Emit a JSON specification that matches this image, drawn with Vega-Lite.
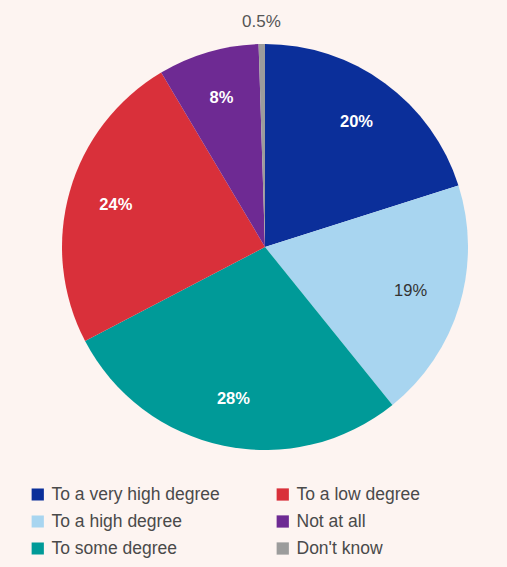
{
  "$schema": "https://vega.github.io/schema/vega-lite/v6.json",
  "autosize": "none",
  "width": 406,
  "height": 406,
  "padding": {"left": 62, "top": 44, "right": 39, "bottom": 117},
  "background": "#fdf4f1",
  "config": {"view": {"stroke": null}, "font": "Liberation Sans"},
  "data": {
    "values": [
      {"category": "To a very high degree", "value": 20, "label": "20%", "ord": 1, "txt": "white"},
      {"category": "To a high degree", "value": 19, "label": "19%", "ord": 2, "txt": "dark"},
      {"category": "To some degree", "value": 28, "label": "28%", "ord": 3, "txt": "white"},
      {"category": "To a low degree", "value": 24, "label": "24%", "ord": 4, "txt": "white"},
      {"category": "Not at all", "value": 8, "label": "8%", "ord": 5, "txt": "white"},
      {"category": "Don't know", "value": 0.5, "label": "0.5%", "ord": 6, "txt": "outside"}
    ]
  },
  "encoding": {
    "theta": {"field": "value", "type": "quantitative", "stack": true},
    "order": {"field": "ord", "type": "quantitative"}
  },
  "layer": [
    {
      "mark": {"type": "arc", "outerRadius": 203},
      "encoding": {
        "color": {
          "field": "category",
          "type": "nominal",
          "scale": {
            "domain": ["To a very high degree", "To a low degree", "To a high degree", "Not at all", "To some degree", "Don't know"],
            "range": ["#0b2f9a", "#d9303a", "#a8d5f0", "#6e2a93", "#009a98", "#9c9c9c"]
          },
          "legend": {
            "title": null,
            "orient": "none",
            "legendX": -33,
            "legendY": 441,
            "direction": "horizontal",
            "columns": 2,
            "columnPadding": 54,
            "rowPadding": 8,
            "symbolType": "square",
            "symbolSize": 150,
            "symbolStrokeWidth": 0,
            "symbolOpacity": 1,
            "labelFontSize": 17.5,
            "labelColor": "#4a4a4a",
            "labelFont": "Liberation Sans",
            "labelOffset": 5,
            "labelLimit": 300,
            "clipHeight": 19,
            "symbolLimit": 0
          }
        }
      }
    },
    {
      "mark": {"type": "text", "radius": 155, "fontSize": 16.5, "font": "Liberation Sans", "fontWeight": "bold", "color": "white"},
      "encoding": {
        "text": {"condition": {"test": "datum.txt == 'white'", "field": "label"}, "value": ""}
      }
    },
    {
      "mark": {"type": "text", "radius": 152, "fontSize": 16.5, "font": "Liberation Sans", "color": "#333333"},
      "encoding": {
        "text": {"condition": {"test": "datum.txt == 'dark'", "field": "label"}, "value": ""}
      }
    },
    {
      "mark": {"type": "text", "radius": 225, "fontSize": 17, "font": "Liberation Sans", "color": "#555555"},
      "encoding": {
        "text": {"condition": {"test": "datum.txt == 'outside'", "field": "label"}, "value": ""}
      }
    }
  ]
}
